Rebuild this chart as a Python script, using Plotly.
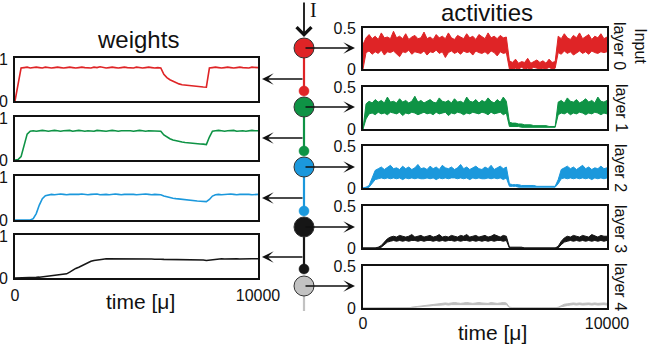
import plotly.graph_objects as go

# ---------------- data ----------------
T = list(range(0, 10001, 125))  # time [μ], 81 samples

# weights (left panels)
W_L0 = [0.00,0.45,0.79,0.80,0.81,0.79,0.80,0.81,0.80,0.79,
        0.81,0.80,0.79,0.80,0.81,0.80,0.79,0.80,0.81,0.80,
        0.79,0.80,0.81,0.80,0.80,0.79,0.81,0.80,0.82,0.80,
        0.79,0.80,0.81,0.80,0.79,0.80,0.81,0.80,0.80,0.79,
        0.81,0.80,0.79,0.80,0.81,0.80,0.79,0.80,0.79,0.64,
        0.56,0.51,0.47,0.44,0.41,0.39,0.38,0.37,0.36,0.35,
        0.345,0.34,0.335,0.33,0.79,0.80,0.81,0.80,0.79,0.80,
        0.81,0.80,0.79,0.80,0.81,0.80,0.80,0.79,0.81,0.80,
        0.80]
W_L1 = [0.00,0.01,0.08,0.35,0.62,0.69,0.70,0.69,0.70,0.71,
        0.70,0.69,0.70,0.71,0.70,0.69,0.70,0.70,0.71,0.69,
        0.70,0.71,0.70,0.69,0.70,0.70,0.69,0.71,0.70,0.70,
        0.69,0.70,0.71,0.70,0.69,0.70,0.70,0.71,0.70,0.69,
        0.70,0.71,0.70,0.69,0.70,0.70,0.69,0.70,0.69,0.60,
        0.55,0.51,0.48,0.46,0.445,0.43,0.42,0.41,0.40,0.395,
        0.39,0.385,0.38,0.37,0.55,0.69,0.70,0.71,0.70,0.69,
        0.70,0.70,0.71,0.69,0.70,0.70,0.69,0.70,0.71,0.70,
        0.70]
W_L2 = [0.00,0.00,0.00,0.00,0.00,0.00,0.03,0.15,0.35,0.50,
        0.57,0.59,0.60,0.59,0.60,0.61,0.60,0.59,0.60,0.60,
        0.59,0.60,0.61,0.60,0.59,0.60,0.60,0.61,0.59,0.60,
        0.60,0.59,0.60,0.61,0.60,0.59,0.60,0.60,0.61,0.60,
        0.59,0.60,0.60,0.61,0.60,0.59,0.60,0.60,0.59,0.56,
        0.54,0.52,0.51,0.50,0.49,0.48,0.47,0.465,0.46,0.45,
        0.445,0.44,0.435,0.43,0.48,0.56,0.59,0.60,0.59,0.60,
        0.60,0.61,0.60,0.59,0.60,0.60,0.61,0.60,0.59,0.60,
        0.60]
W_L3 = [0.00,0.00,0.00,0.00,0.005,0.01,0.01,0.015,0.02,0.03,
        0.04,0.045,0.05,0.06,0.07,0.08,0.085,0.10,0.14,0.19,
        0.23,0.26,0.30,0.34,0.37,0.40,0.42,0.435,0.445,0.45,
        0.46,0.46,0.465,0.46,0.47,0.46,0.465,0.47,0.46,0.465,
        0.46,0.465,0.46,0.455,0.46,0.455,0.45,0.455,0.45,0.445,
        0.445,0.44,0.445,0.44,0.44,0.445,0.44,0.44,0.445,0.44,
        0.44,0.435,0.43,0.42,0.43,0.44,0.45,0.455,0.46,0.455,
        0.46,0.455,0.46,0.46,0.455,0.46,0.46,0.455,0.46,0.46,
        0.46]

# activities (right panels): upper / lower envelope of the noisy traces
A_IN_HI = [0.30,0.38,0.42,0.37,0.40,0.36,0.44,0.38,0.39,0.37,
           0.46,0.38,0.40,0.37,0.43,0.36,0.39,0.41,0.37,0.38,
           0.45,0.37,0.39,0.36,0.42,0.38,0.40,0.37,0.44,0.38,
           0.36,0.41,0.39,0.37,0.43,0.38,0.40,0.36,0.42,0.39,
           0.37,0.44,0.38,0.40,0.37,0.41,0.38,0.39,0.10,0.08,
           0.12,0.07,0.09,0.08,0.13,0.07,0.09,0.11,0.08,0.10,
           0.07,0.12,0.08,0.09,0.40,0.37,0.43,0.38,0.36,0.41,
           0.38,0.44,0.37,0.39,0.42,0.36,0.40,0.38,0.43,0.37,
           0.39]
A_IN_LO = [0.00,0.20,0.22,0.18,0.21,0.19,0.23,0.17,0.21,0.20,
           0.22,0.19,0.15,0.21,0.20,0.23,0.18,0.21,0.20,0.19,
           0.22,0.17,0.21,0.20,0.23,0.19,0.21,0.14,0.20,0.22,
           0.19,0.21,0.18,0.22,0.20,0.21,0.17,0.22,0.20,0.19,
           0.21,0.18,0.22,0.20,0.16,0.21,0.19,0.20,0.00,0.00,
           0.01,0.00,0.02,0.00,0.01,0.00,0.02,0.01,0.00,0.01,
           0.00,0.02,0.00,0.01,0.20,0.18,0.22,0.19,0.21,0.17,
           0.20,0.22,0.19,0.21,0.18,0.22,0.20,0.19,0.21,0.20,
           0.21]
A_L1_HI = [0.00,0.30,0.33,0.31,0.35,0.32,0.34,0.31,0.38,0.32,
           0.33,0.31,0.36,0.32,0.34,0.31,0.33,0.39,0.32,0.34,
           0.31,0.33,0.35,0.32,0.31,0.37,0.33,0.32,0.34,0.31,
           0.36,0.32,0.33,0.31,0.38,0.33,0.32,0.35,0.31,0.34,
           0.32,0.37,0.33,0.31,0.35,0.32,0.38,0.33,0.08,0.07,
           0.07,0.06,0.06,0.05,0.05,0.05,0.04,0.04,0.04,0.04,
           0.04,0.03,0.03,0.03,0.32,0.34,0.31,0.37,0.33,0.32,
           0.35,0.31,0.33,0.36,0.32,0.34,0.31,0.38,0.33,0.32,
           0.34]
A_L1_LO = [0.00,0.12,0.18,0.19,0.17,0.20,0.18,0.19,0.17,0.20,
           0.19,0.18,0.20,0.16,0.19,0.18,0.20,0.19,0.17,0.19,
           0.20,0.18,0.19,0.17,0.20,0.18,0.19,0.20,0.16,0.19,
           0.18,0.20,0.19,0.17,0.19,0.18,0.20,0.19,0.18,0.20,
           0.19,0.17,0.20,0.18,0.19,0.20,0.17,0.19,0.03,0.03,
           0.03,0.03,0.02,0.02,0.02,0.02,0.02,0.02,0.02,0.02,
           0.02,0.02,0.02,0.02,0.17,0.19,0.18,0.20,0.17,0.19,
           0.18,0.20,0.19,0.17,0.19,0.18,0.20,0.19,0.17,0.19,
           0.18]
A_L2_HI = [0.00,0.01,0.03,0.12,0.21,0.23,0.25,0.22,0.24,0.27,
           0.23,0.24,0.22,0.26,0.23,0.25,0.22,0.24,0.28,0.23,
           0.24,0.22,0.26,0.23,0.25,0.22,0.27,0.24,0.23,0.25,
           0.22,0.24,0.28,0.23,0.25,0.22,0.24,0.26,0.23,0.22,
           0.25,0.23,0.27,0.22,0.24,0.26,0.23,0.25,0.05,0.04,
           0.04,0.04,0.03,0.03,0.03,0.03,0.03,0.02,0.02,0.02,
           0.02,0.02,0.02,0.02,0.10,0.22,0.24,0.26,0.23,0.25,
           0.22,0.24,0.27,0.23,0.25,0.22,0.24,0.23,0.26,0.23,
           0.24]
A_L2_LO = [0.00,0.00,0.01,0.05,0.10,0.11,0.12,0.11,0.12,0.11,
           0.12,0.11,0.12,0.10,0.12,0.11,0.12,0.11,0.12,0.11,
           0.11,0.12,0.11,0.12,0.10,0.12,0.11,0.12,0.11,0.12,
           0.12,0.11,0.12,0.11,0.12,0.10,0.12,0.11,0.12,0.11,
           0.11,0.12,0.11,0.12,0.11,0.12,0.10,0.12,0.02,0.02,
           0.02,0.01,0.01,0.01,0.01,0.01,0.01,0.01,0.01,0.01,
           0.01,0.01,0.01,0.01,0.05,0.11,0.12,0.11,0.12,0.11,
           0.12,0.11,0.12,0.11,0.12,0.10,0.12,0.11,0.12,0.11,
           0.12]
A_L3_HI = [0.00,0.00,0.00,0.00,0.00,0.01,0.03,0.07,0.11,0.13,
           0.14,0.13,0.15,0.14,0.13,0.14,0.16,0.13,0.14,0.15,
           0.13,0.14,0.15,0.13,0.14,0.16,0.13,0.14,0.13,0.15,
           0.14,0.13,0.15,0.14,0.16,0.13,0.14,0.15,0.13,0.14,
           0.15,0.13,0.14,0.16,0.14,0.13,0.15,0.14,0.01,0.01,
           0.01,0.01,0.01,0.00,0.00,0.00,0.00,0.00,0.00,0.00,
           0.00,0.00,0.00,0.00,0.02,0.08,0.12,0.14,0.13,0.15,
           0.14,0.13,0.15,0.14,0.13,0.16,0.14,0.13,0.15,0.14,
           0.14]
A_L3_LO = [0.00,0.00,0.00,0.00,0.00,0.00,0.01,0.04,0.07,0.08,
           0.09,0.08,0.09,0.08,0.09,0.08,0.09,0.09,0.08,0.09,
           0.08,0.09,0.09,0.08,0.09,0.08,0.09,0.08,0.09,0.09,
           0.08,0.09,0.08,0.09,0.09,0.08,0.09,0.08,0.09,0.08,
           0.09,0.08,0.09,0.08,0.09,0.09,0.08,0.09,0.00,0.00,
           0.00,0.00,0.00,0.00,0.00,0.00,0.00,0.00,0.00,0.00,
           0.00,0.00,0.00,0.00,0.00,0.04,0.07,0.08,0.09,0.08,
           0.09,0.08,0.09,0.08,0.09,0.08,0.09,0.08,0.09,0.08,
           0.09]
A_L4_HI = [0.00,0.00,0.00,0.00,0.00,0.00,0.00,0.00,0.00,0.00,
           0.00,0.00,0.00,0.00,0.00,0.00,0.01,0.015,0.02,0.025,
           0.03,0.035,0.04,0.045,0.05,0.05,0.055,0.06,0.055,0.06,
           0.065,0.06,0.055,0.06,0.065,0.06,0.055,0.06,0.065,0.06,
           0.06,0.055,0.065,0.06,0.055,0.06,0.065,0.06,0.01,0.005,
           0.005,0.005,0.00,0.00,0.00,0.00,0.00,0.00,0.00,0.00,
           0.00,0.00,0.00,0.00,0.01,0.03,0.045,0.05,0.055,0.06,
           0.055,0.06,0.055,0.06,0.06,0.055,0.06,0.055,0.06,0.06,
           0.055]
A_L4_LO = [0.00,0.00,0.00,0.00,0.00,0.00,0.00,0.00,0.00,0.00,
           0.00,0.00,0.00,0.00,0.00,0.00,0.005,0.01,0.01,0.015,
           0.02,0.02,0.025,0.03,0.03,0.035,0.035,0.04,0.035,0.04,
           0.04,0.04,0.035,0.04,0.04,0.04,0.035,0.04,0.04,0.04,
           0.04,0.035,0.04,0.04,0.035,0.04,0.04,0.04,0.005,0.00,
           0.00,0.00,0.00,0.00,0.00,0.00,0.00,0.00,0.00,0.00,
           0.00,0.00,0.00,0.00,0.005,0.015,0.025,0.03,0.035,0.04,
           0.035,0.04,0.035,0.04,0.04,0.035,0.04,0.035,0.04,0.04,
           0.035]

WEIGHTS = [W_L0, W_L1, W_L2, W_L3]
ACT_HI = [A_IN_HI, A_L1_HI, A_L2_HI, A_L3_HI, A_L4_HI]
ACT_LO = [A_IN_LO, A_L1_LO, A_L2_LO, A_L3_LO, A_L4_LO]
for s in WEIGHTS + ACT_HI + ACT_LO:
    assert len(s) == len(T), len(s)

LAYER_LABELS = ["Input<br>layer 0", "layer 1", "layer 2", "layer 3", "layer 4"]
W_TICKS = [0, 1]
A_TICKS = [0, 0.5]
A_TICKTEXT = ["0", "0.5"]
X_TICKS = [0, 10000]
X_TICKTEXT = ["0", "10000"]

# ---------------- styling ----------------
RED = "#df2426"
GREEN = "#0e9345"
BLUE = "#1b98dc"
BLACK = "#161616"
GRAY = "#bdbdbd"
W_COLORS = [RED, GREEN, BLUE, BLACK]
A_COLORS = [RED, GREEN, BLUE, BLACK, GRAY]
FONT = "Liberation Sans, Arial, sans-serif"
W, H = 650, 345

def px(x):
    return x / W

def py(y):
    return 1 - y / H

# panel pixel boxes (top, bottom)
W_X = (15, 258)
W_Y = [(58, 101), (117, 160), (176, 220), (235, 278)]
A_X = (363, 607)
A_Y = [(28, 69), (87, 129), (146, 188), (206, 248), (266, 308)]

fig = go.Figure()
layout = dict(
    width=W, height=H, autosize=False,
    margin=dict(l=0, r=0, t=0, b=0, pad=0, autoexpand=False),
    paper_bgcolor="white", plot_bgcolor="white",
    showlegend=False,
    font=dict(family=FONT, size=16, color="#111111"),
)

def axis_common():
    return dict(showline=True, mirror=True, linecolor="#111111", linewidth=2,
                showgrid=False, zeroline=False, ticks="", fixedrange=True,
                automargin=False, tickfont=dict(size=16))

n = 0
for i, wser in enumerate(WEIGHTS):
    n += 1
    top, bot = W_Y[i]
    xa = axis_common()
    xa.update(domain=[px(W_X[0]), px(W_X[1])], range=[0, 10000], anchor=f"y{n}",
              tickvals=X_TICKS, ticktext=X_TICKTEXT,
              showticklabels=(i == len(WEIGHTS) - 1), ticklabelstandoff=2)
    ya = axis_common()
    ya.update(domain=[py(bot), py(top)], range=[0, 1.03], anchor=f"x{n}",
              tickvals=W_TICKS, ticktext=["0", "1"], ticklabelstandoff=2)
    layout[f"xaxis{n}" if n > 1 else "xaxis"] = xa
    layout[f"yaxis{n}" if n > 1 else "yaxis"] = ya
    fig.add_trace(go.Scatter(x=T, y=wser, mode="lines",
                             line=dict(color=W_COLORS[i], width=1.6),
                             xaxis=f"x{n}" if n > 1 else "x",
                             yaxis=f"y{n}" if n > 1 else "y",
                             hoverinfo="skip"))

for i in range(len(ACT_HI)):
    n += 1
    top, bot = A_Y[i]
    xa = axis_common()
    xa.update(domain=[px(A_X[0]), px(A_X[1])], range=[0, 10000], anchor=f"y{n}",
              tickvals=X_TICKS, ticktext=X_TICKTEXT,
              showticklabels=(i == len(ACT_HI) - 1), ticklabelstandoff=0)
    ya = axis_common()
    ya.update(domain=[py(bot), py(top)], range=[0, 0.5], anchor=f"x{n}",
              tickvals=A_TICKS, ticktext=A_TICKTEXT, ticklabelstandoff=2)
    layout[f"xaxis{n}"] = xa
    layout[f"yaxis{n}"] = ya
    c = A_COLORS[i]
    fig.add_trace(go.Scatter(x=T, y=ACT_LO[i], mode="lines",
                             line=dict(color=c, width=1),
                             xaxis=f"x{n}", yaxis=f"y{n}", hoverinfo="skip"))
    fig.add_trace(go.Scatter(x=T, y=ACT_HI[i], mode="lines", fill="tonexty",
                             fillcolor=c, line=dict(color=c, width=1),
                             xaxis=f"x{n}", yaxis=f"y{n}", hoverinfo="skip"))

# ---------------- network diagram ----------------
shapes = []
CX = 304
BIG = [(48, RED), (107, GREEN), (167, BLUE), (227, BLACK), (286, "#c2c2c2")]
SMALL = [(91, RED), (151, GREEN), (211, BLUE), (269, BLACK)]
SEGS = [(48, 91, RED), (107, 151, GREEN), (167, 211, BLUE), (227, 269, BLACK), (286, 311, "#c2c2c2")]
for y0, y1, c in SEGS:
    shapes.append(dict(type="line", xref="paper", yref="paper",
                       x0=px(CX), x1=px(CX), y0=py(y0), y1=py(y1),
                       line=dict(color=c, width=2.2), layer="above"))
for yc, c in SMALL:
    r = 5
    shapes.append(dict(type="circle", xref="paper", yref="paper",
                       x0=px(CX - r), x1=px(CX + r), y0=py(yc + r), y1=py(yc - r),
                       fillcolor=c, line=dict(color=c, width=0.5), layer="above"))
for yc, c in BIG:
    r = 10
    shapes.append(dict(type="circle", xref="paper", yref="paper",
                       x0=px(CX - r), x1=px(CX + r), y0=py(yc + r), y1=py(yc - r),
                       fillcolor=c, line=dict(color="#333333", width=1), layer="above"))

annotations = []
# arrows to activity panels
for yc, c in BIG:
    annotations.append(dict(xref="paper", yref="paper", x=px(355), y=py(yc),
                            ax=-(355 - CX), ay=0, axref="pixel", ayref="pixel",
                            text="", showarrow=True, arrowhead=3, arrowsize=1.3,
                            arrowwidth=1.5, arrowcolor="#111111"))
# arrows to weight panels
for yl in [79, 138, 198, 257]:
    annotations.append(dict(xref="paper", yref="paper", x=px(262), y=py(yl),
                            ax=(CX - 262), ay=0, axref="pixel", ayref="pixel",
                            text="", showarrow=True, arrowhead=3, arrowsize=1.3,
                            arrowwidth=1.5, arrowcolor="#111111"))
# input arrow
annotations.append(dict(xref="paper", yref="paper", x=px(CX), y=py(37),
                        ax=0, ay=-36, axref="pixel", ayref="pixel",
                        text="", showarrow=True, arrowhead=4, arrowsize=1.6,
                        arrowwidth=1.8, arrowcolor="#111111"))

def label(x, y, text, size, angle=0, family=None):
    f = dict(size=size)
    if family:
        f["family"] = family
    return dict(xref="paper", yref="paper", x=px(x), y=py(y), text=text,
                xanchor="center", yanchor="middle", showarrow=False,
                textangle=angle, font=f)

annotations.append(label(313, 10, "I", 20, family="Liberation Serif, DejaVu Serif, serif"))
# titles
annotations.append(label(138, 39, "weights", 24))
annotations.append(label(487, 12, "activities", 24))
annotations.append(label(140, 301, "time [μ]", 21))
annotations.append(label(492, 332, "time [μ]", 21))

# layer labels (rotated)
LABEL_Y = [46, 108, 168, 229, 287]
for lbl, yc in zip(LAYER_LABELS, LABEL_Y):
    xc = 630 if "<br>" in lbl else 621
    annotations.append(label(xc, yc, lbl, 16, angle=90))

layout["shapes"] = shapes
layout["annotations"] = annotations
fig.update_layout(**layout)
fig.write_html(
    "out.html",
    config={"displayModeBar": False, "staticPlot": True},
    post_script="document.body.style.margin='0';document.body.style.padding='0';"
                "document.body.style.overflow='hidden';",
)
